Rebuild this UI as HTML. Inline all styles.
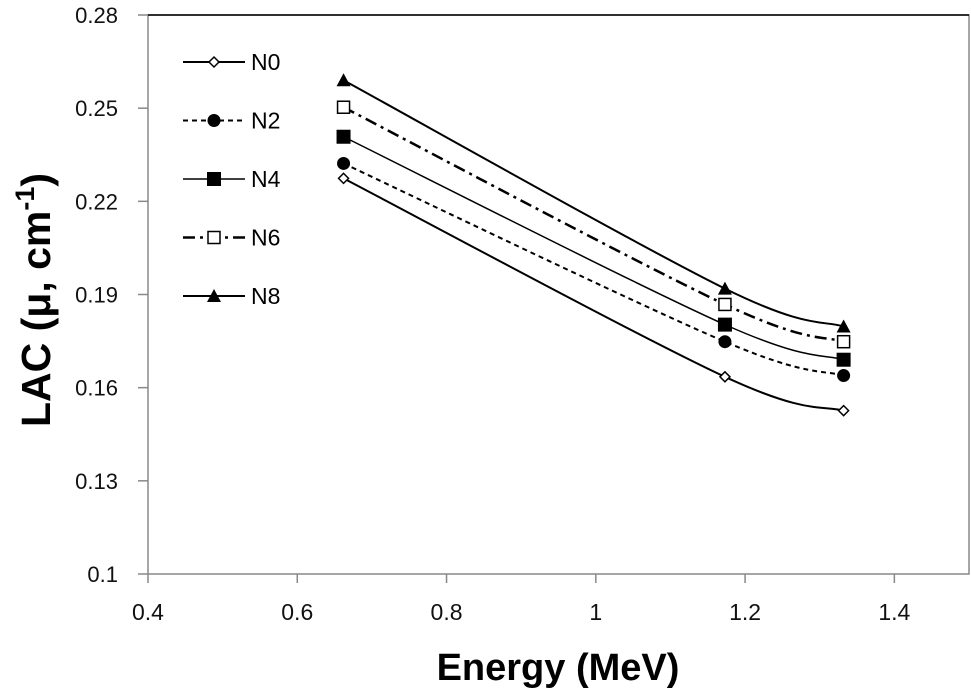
<!DOCTYPE html>
<html><head><meta charset="utf-8"><style>
body{margin:0;background:#fff;}
svg{display:block;font-family:"Liberation Sans",Arial,sans-serif;}
</style></head><body>
<svg id="c" width="971" height="696"></svg>
<script>
const energies=[0.662,1.173,1.332];
const seriesNames=["N0","N2","N4","N6","N8"];
const n0=[0.2274,0.1635,0.1526];
const n2=[0.2322,0.1748,0.1639];
const n4=[0.2408,0.1803,0.1690];
const n6=[0.2503,0.1868,0.1748];
const n8=[0.2590,0.1919,0.1797];
const xTicks=[0.4,0.6,0.8,1,1.2,1.4];
const yTicks=[0.1,0.13,0.16,0.19,0.22,0.25,0.28];
const values=[n0,n2,n4,n6,n8];
const styles=[{d:"",w:2,m:"diamond"},{d:"5,4",w:2,m:"circle"},{d:"",w:1.5,m:"square"},{d:"12,5,3,5",w:2.5,m:"osquare"},{d:"",w:2,m:"triangle"}];
const svg=document.getElementById('c');const NS="http://www.w3.org/2000/svg";
const L=148,R=969,T=15,B=574;
const xs=v=>L+(v-0.4)/(1.5-0.4)*(R-L);
const ys=v=>B-(v-0.1)/(0.28-0.1)*(B-T);
function el(t,a,p){const e=document.createElementNS(NS,t);for(const k in a)e.setAttribute(k,a[k]);(p||svg).appendChild(e);return e;}
let e=el('rect',{x:L,y:T,width:R-L,height:B-T,fill:'none',stroke:'#888','stroke-width':1.5});


el('line',{x1:L,x2:R,y1:T,y2:T,stroke:'#000','stroke-width':1.5});
xTicks.forEach(t=>{const x=xs(t);el('line',{x1:x,x2:x,y1:B,y2:B+9,stroke:'#888','stroke-width':1.5});
let tx=el('text',{x:x,y:B+46,'text-anchor':'middle','font-size':23,fill:'#111'});tx.textContent=t;

});
yTicks.forEach(t=>{const y=ys(t);el('line',{x1:L-10,x2:L,y1:y,y2:y,stroke:'#888','stroke-width':1.5});
let tx=el('text',{x:L-30,y:y+8,'text-anchor':'end','font-size':22,fill:'#111'});tx.textContent=t;

});
let xt=el('text',{x:558,y:680,'text-anchor':'middle','font-size':38,'font-weight':'bold'});xt.textContent='Energy (MeV)';


let yt=el('text',{transform:'translate(50,300) rotate(-90)','text-anchor':'middle','font-size':41,'font-weight':'bold'});
yt.innerHTML='LAC (μ, cm<tspan dy="-16" font-size="27">-1</tspan><tspan dy="16">)</tspan>';


function marker(g,m,x,y){
 if(m=='diamond')el('polygon',{points:`${x},${y-5} ${x+5},${y} ${x},${y+5} ${x-5},${y}`,fill:'#fff',stroke:'#000','stroke-width':1.5},g);
 if(m=='circle')el('circle',{cx:x,cy:y,r:6.5,fill:'#000'},g);
 if(m=='square')el('rect',{x:x-7,y:y-7,width:14,height:14,fill:'#000'},g);
 if(m=='osquare')el('rect',{x:x-6,y:y-6,width:12,height:12,fill:'#fff',stroke:'#000','stroke-width':1.5},g);
 if(m=='triangle')el('polygon',{points:`${x},${y-7} ${x+7},${y+6} ${x-7},${y+6}`,fill:'#000'},g);
}
function smooth(p){let d=`M${p[0][0]},${p[0][1]}`;for(let i=0;i<p.length-1;i++){const p0=p[i-1]||p[i],p1=p[i],p2=p[i+1],p3=p[i+2]||p2;
const k=1/6;d+=` C${p1[0]+(p2[0]-p0[0])*k},${p1[1]+(p2[1]-p0[1])*k} ${p2[0]-(p3[0]-p1[0])*k},${p2[1]-(p3[1]-p1[1])*k} ${p2[0]},${p2[1]}`;}return d;}
values.forEach((vals,i)=>{const s=styles[i];const g=el('g',{});


const pts=energies.map((x,j)=>[xs(x),ys(vals[j])]);
el('path',{d:smooth(pts),fill:'none',stroke:'#000','stroke-width':s.w,'stroke-dasharray':s.d},g);
pts.forEach(p=>marker(g,s.m,p[0],p[1]));
const ly=62+i*58.5;const lg=el('g',{});


el('line',{x1:183,x2:245,y1:ly,y2:ly,stroke:'#000','stroke-width':s.w,'stroke-dasharray':s.d},lg);
marker(lg,s.m,214,ly);
const t=el('text',{x:251,y:ly+8,'font-size':23},lg);t.textContent=seriesNames[i];});
</script>
</body></html>
